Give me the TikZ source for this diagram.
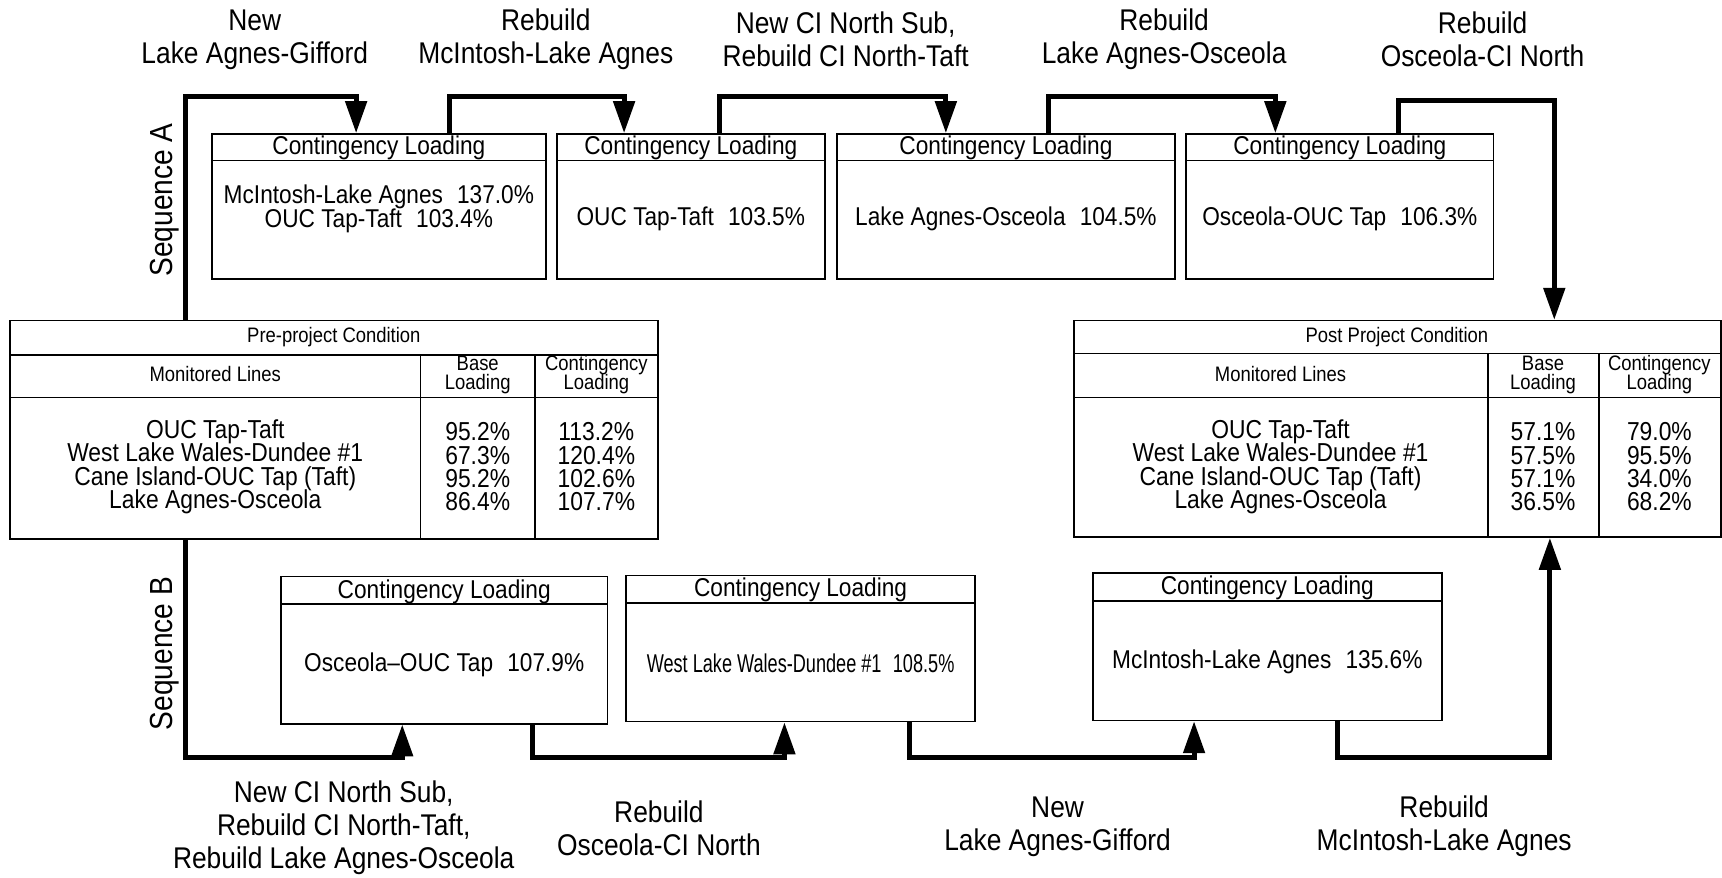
\documentclass[tikz,border=0pt]{standalone}
\usepackage{fontspec}
\usepackage{graphicx}
\setmainfont[FakeStretch=0.88]{Liberation Sans}
\usetikzlibrary{arrows.meta,fit}

\newcommand{\gap}{\hspace{0.55em}}
\newcommand{\tightlines}{\lineskiplimit=-20pt\lineskip=0pt}

\begin{document}
\begin{tikzpicture}[x=0.55pt,y=-0.55pt,
    frame/.style={draw,line width=0.8pt,inner sep=0pt},
    boxtxt/.style={font=\fontsize{12.9}{12.2}\selectfont\tightlines,align=center},
    headtxt/.style={font=\fontsize{10.5}{9.5}\selectfont\tightlines,align=center},
    tabtxt/.style={font=\fontsize{13}{11.6}\selectfont\tightlines,align=center},
    steptxt/.style={font=\fontsize{15}{16.5}\selectfont\tightlines,align=center},
    link/.style={line width=2.5pt},
    flow/.style={link,-{Triangle[length=16pt,width=10.5pt]}}]
  \useasboundingbox (0,0) rectangle (1568,799);

  % sequence A boxes
  \foreach \n/\xa/\xb/\ty/\txt in {
      A1/193/497/190/{McIntosh-Lake Agnes\gap 137.0\%\\OUC Tap-Taft\gap 103.4\%},
      A2/507/751/199/{OUC Tap-Taft\gap 103.5\%},
      A3/762/1070/199/{Lake Agnes-Osceola\gap 104.5\%},
      A4/1080/1360/199/{Osceola-OUC Tap\gap 106.3\%}}{
    \node[frame,fit={(\xa,122) (\xb,254)}] (\n) {};
    \draw[line width=0.8pt] (\xa,146) -- (\xb,146);
    \node[boxtxt] at ({(\xa+\xb)/2},135) {Contingency Loading};
    \node[boxtxt] at ({(\xa+\xb)/2},\ty) {\txt};
  }

  % sequence B boxes
  \foreach \n/\xa/\xb/\ya/\yb/\yh/\txt in {
      B1/256/553/525/659/550/{Osceola--OUC Tap\gap 107.9\%},
      B2/570/888/524/657/549/{\scalebox{0.8}[1]{West Lake Wales-Dundee \#1\gap 108.5\%}},
      B3/995/1313/522/656/547/{McIntosh-Lake Agnes\gap 135.6\%}}{
    \node[frame,fit={(\xa,\ya) (\xb,\yb)}] (\n) {};
    \draw[line width=0.8pt] (\xa,\yh) -- (\xb,\yh);
    \node[boxtxt] at ({(\xa+\xb)/2},{(\ya+\yh)/2+1}) {Contingency Loading};
    \node[boxtxt] at ({(\xa+\xb)/2},{(\yh+\yb)/2+1}) {\txt};
  }

  % pre-project table
  \node[frame,fit={(9,292) (599,491)}] (pre) {};
  \draw[line width=0.8pt] (9,323) -- (599,323) (9,362) -- (599,362)
    (383,323) -- (383,491) (487,323) -- (487,491);
  \node[headtxt] at (304,307) {Pre-project Condition};
  \node[headtxt] at (196,341) {Monitored Lines};
  \node[headtxt] at (435,341) {Base\\Loading};
  \node[headtxt] at (543,341) {Contingency\\Loading};
  \node[tabtxt] at (196,425) {OUC Tap-Taft\\West Lake Wales-Dundee \#1\\Cane Island-OUC Tap (Taft)\\Lake Agnes-Osceola};
  \node[tabtxt] at (435,425) {95.2\%\\67.3\%\\95.2\%\\86.4\%};
  \node[tabtxt] at (543,425) {113.2\%\\120.4\%\\102.6\%\\107.7\%};

  % post project table
  \node[frame,fit={(978,292) (1567,489)}] (post) {};
  \draw[line width=0.8pt] (978,322) -- (1567,322) (978,362) -- (1567,362)
    (1355,322) -- (1355,489) (1456,322) -- (1456,489);
  \node[headtxt] at (1272,307) {Post Project Condition};
  \node[headtxt] at (1166,341) {Monitored Lines};
  \node[headtxt] at (1405,341) {Base\\Loading};
  \node[headtxt] at (1511,341) {Contingency\\Loading};
  \node[tabtxt] at (1166,425) {OUC Tap-Taft\\West Lake Wales-Dundee \#1\\Cane Island-OUC Tap (Taft)\\Lake Agnes-Osceola};
  \node[tabtxt] at (1405,425) {57.1\%\\57.5\%\\57.1\%\\36.5\%};
  \node[tabtxt] at (1511,425) {79.0\%\\95.5\%\\34.0\%\\68.2\%};

  % sequence labels
  \node[steptxt,font=\fontsize{16}{17}\selectfont,rotate=90] (seqA) at (150,182) {Sequence A};
  \node[steptxt,font=\fontsize{16}{17}\selectfont,rotate=90] (seqB) at (150,595) {Sequence B};

  % step labels
  \node[steptxt] (sa1) at (232,36) {New\\Lake Agnes-Gifford};
  \node[steptxt] (sa2) at (497,36) {Rebuild\\McIntosh-Lake Agnes};
  \node[steptxt] (sa3) at (770,36) {New CI North Sub,\\Rebuild CI North-Taft};
  \node[steptxt] (sa4) at (1060,36) {Rebuild\\Lake Agnes-Osceola};
  \node[steptxt] (sa5) at (1350,36) {Rebuild\\Osceola-CI North};
  \node[steptxt] (sb1) at (313,754) {New CI North Sub,\\Rebuild CI North-Taft,\\Rebuild Lake Agnes-Osceola};
  \node[steptxt] (sb2) at (600,754) {Rebuild\\Osceola-CI North};
  \node[steptxt] (sb3) at (963,753) {New\\Lake Agnes-Gifford};
  \node[steptxt] (sb4) at (1315,752) {Rebuild\\McIntosh-Lake Agnes};

  % connector ends
  \coordinate (railA) at (0,88);
  \coordinate (railB) at (0,690);
  \path (pre.north west) ++(161,0) coordinate (preA)
        (pre.south west) ++(161,0) coordinate (preB)
        (post.north west) ++(438,0) coordinate (postA)
        (post.south west) ++(434,0) coordinate (postB)
        (A1.north west) ++(132,0) coordinate (a1in) ++(85,0) coordinate (a1out)
        (A2.north west) ++(62,0) coordinate (a2in) ++(87,0) coordinate (a2out)
        (A3.north west) ++(100,0) coordinate (a3in) ++(93,0) coordinate (a3out)
        (A4.north west) ++(82,0) coordinate (a4in) ++(112,0) coordinate (a4out)
        (B1.south west) ++(111,0) coordinate (b1in) ++(119,0) coordinate (b1out)
        (B2.south west) ++(145,0) coordinate (b2in) ++(114,0) coordinate (b2out)
        (B3.south west) ++(93,0) coordinate (b3in) ++(131,0) coordinate (b3out);

  % sequence A
  \draw[flow] (preA) -- (preA |- railA) -| (a1in);
  \draw[flow] (a1out) -- (a1out |- railA) -| (a2in);
  \draw[flow] (a2out) -- (a2out |- railA) -| (a3in);
  \draw[flow] (a3out) -- (a3out |- railA) -| (a4in);
  \draw[flow] (a4out) -- ++(0,-30) -| (postA);

  % sequence B
  \draw[flow] (preB) -- (preB |- railB) -| (b1in);
  \draw[flow] (b1out) -- (b1out |- railB) -| (b2in);
  \draw[flow] (b2out) -- (b2out |- railB) -| (b3in);
  \draw[flow] (b3out) -- (b3out |- railB) -| (postB);
\end{tikzpicture}
\end{document}
